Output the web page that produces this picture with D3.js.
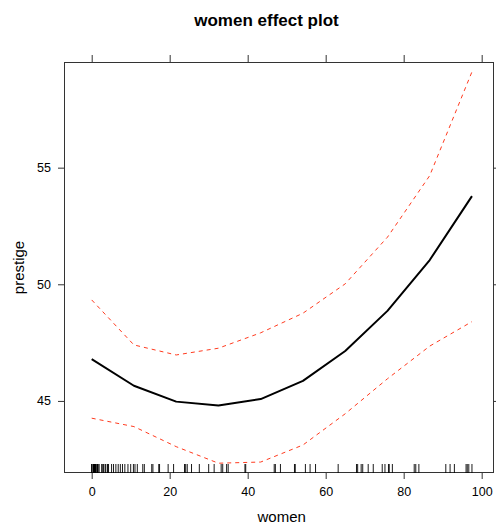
<!DOCTYPE html>
<html>
<head>
<meta charset="utf-8">
<script src="https://cdn.jsdelivr.net/npm/d3@7"></script>
<style>
  body { margin: 0; background: #fff; }
  svg { display: block; }
  text { font-family: "Liberation Sans", Arial, Helvetica, sans-serif; }
</style>
</head>
<body>
<svg id="chart" width="496" height="524"></svg>
<script>
// ---- data ----
const womenGrid = [0, 10.83, 21.67, 32.5, 43.34, 54.17, 65.01, 75.84, 86.68, 97.51];
const fitValues = [46.79, 45.65, 44.97, 44.80, 45.08, 45.86, 47.14, 48.86, 51.04, 53.78];
const upperValues = [49.33, 47.40, 46.97, 47.26, 47.92, 48.76, 50.02, 52.02, 54.66, 59.11];
const lowerValues = [44.26, 43.90, 43.04, 42.33, 42.38, 43.11, 44.45, 45.95, 47.35, 48.40];
const rugValues = [0, 0, 0.31, 0.47, 0.52, 0.56, 0.58, 0.61, 0.67, 0.74, 0.78, 0.94, 0.94, 1.03,
  1.09, 1.38, 1.42, 1.52, 1.65, 1.91, 2.58, 2.69, 3.02, 3.43, 3.59, 4.02, 4.14, 4.32,
  5.1, 5.6, 6.2, 6.8, 7.35, 7.9, 8.5, 9.3, 10.0, 10.7, 11.1, 11.7, 13.1, 13.5, 15.4, 15.7,
  17.2, 17.4, 19.6, 21.0, 23.8, 24.1, 24.5, 25.6, 27.6, 30.0, 31.4, 33.2, 33.6, 34.6, 35.0,
  39.3, 39.5, 46.8, 47.1, 48.4, 52.0, 52.2, 54.8, 56.0, 57.4, 63.2, 67.9, 68.2, 69.1, 69.5,
  70.9, 72.2, 74.5, 75.2, 76.1, 76.3, 77.1, 82.7, 83.1, 83.9, 90.8, 91.9, 93.0, 96.0, 96.3,
  96.7, 97.51];
const xTicks = [0, 20, 40, 60, 80, 100];
const yTicks = [45, 50, 55];
const titleText = "women effect plot";
const xLabel = "women";
const yLabel = "prestige";

// ---- layout ----
const svg = d3.select("#chart");
const L = 64, R = 494, T = 62, B = 473;

const x = d3.scaleLinear().domain([-7.1, 103.16]).range([L, R]);
const y = d3.scaleLinear().domain([41.91, 59.53]).range([B, T]);

// panel
svg.append("rect")
  .attr("x", L + 0.5).attr("y", T + 0.5)
  .attr("width", R - L - 1).attr("height", B - T - 1)
  .attr("fill", "none").attr("stroke", "#333").attr("stroke-width", 1);

// axes
const gx = svg.append("g").attr("transform", `translate(0,${B})`)
  .call(d3.axisBottom(x).tickValues(xTicks).tickSize(6).tickPadding(8).tickFormat(d3.format("d")));
const gxt = svg.append("g").attr("transform", `translate(0,${T})`)
  .call(d3.axisTop(x).tickValues(xTicks).tickSize(7).tickFormat(""));
const gy = svg.append("g").attr("transform", `translate(${L},0)`)
  .call(d3.axisLeft(y).tickValues(yTicks).tickSize(6).tickPadding(7).tickFormat(d3.format("d")));
const gyr = svg.append("g").attr("transform", `translate(${R},0)`)
  .call(d3.axisRight(y).tickValues(yTicks).tickSize(6).tickFormat(""));

[gx, gxt, gy, gyr].forEach(g => {
  g.select(".domain").remove();
  g.selectAll(".tick line").attr("stroke", "#333");
  g.selectAll(".tick text").attr("fill", "#000").style("font-size", "12.5px")
    .style("font-family", '"Liberation Sans", Arial, Helvetica, sans-serif');
});

// rug
svg.append("g").selectAll("line").data(rugValues).join("line")
  .attr("x1", d => x(d)).attr("x2", d => x(d))
  .attr("y1", B).attr("y2", B - 9)
  .attr("stroke", "#000").attr("stroke-width", 0.9);

// lines
const line = d3.line().x((d, i) => x(womenGrid[i])).y(d => y(d));
svg.append("path").datum(upperValues).attr("d", line)
  .attr("fill", "none").attr("stroke", "#ff3b1f").attr("stroke-width", 1)
  .attr("stroke-dasharray", "4,4");
svg.append("path").datum(lowerValues).attr("d", line)
  .attr("fill", "none").attr("stroke", "#ff3b1f").attr("stroke-width", 1)
  .attr("stroke-dasharray", "4,4");
svg.append("path").datum(fitValues).attr("d", line)
  .attr("fill", "none").attr("stroke", "#000").attr("stroke-width", 2)
  .attr("stroke-linejoin", "round");

// titles
svg.append("text").attr("x", 266.5).attr("y", 26)
  .attr("text-anchor", "middle").style("font-size", "17px").style("font-weight", "bold")
  .text(titleText);
svg.append("text").attr("x", 281.7).attr("y", 522)
  .attr("text-anchor", "middle").style("font-size", "15px")
  .text(xLabel);
svg.append("text").attr("transform", "translate(24,267.5) rotate(-90)")
  .attr("text-anchor", "middle").style("font-size", "15px")
  .text(yLabel);
</script>
</body>
</html>
